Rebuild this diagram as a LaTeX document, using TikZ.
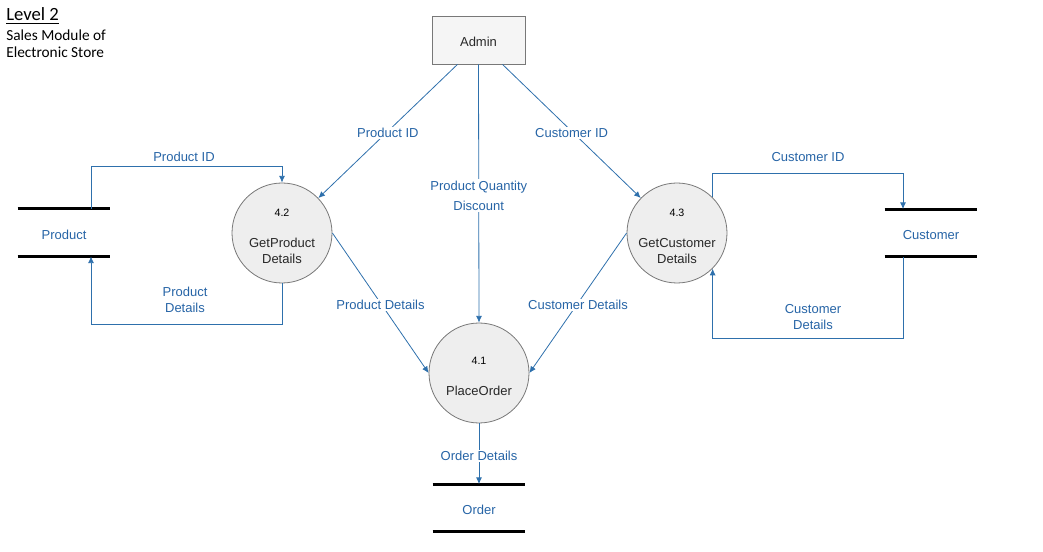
\documentclass[tikz,border=0pt]{standalone}
\usepackage{fontspec}
\setmainfont{Liberation Sans}
\newfontfamily\titlefont{Carlito}
\usetikzlibrary{arrows.meta}
\definecolor{flow}{RGB}{46,112,172}
\definecolor{lbl}{RGB}{38,100,166}
\definecolor{procfill}{RGB}{238,238,238}
\definecolor{procdraw}{RGB}{120,120,120}
\definecolor{txt}{RGB}{40,40,40}
\begin{document}
\begin{tikzpicture}[x=0.75pt,y=-0.75pt,
  proc/.style={circle, draw=procdraw, fill=procfill, minimum size=75pt, inner sep=0pt, line width=0.6pt},
  ent/.style={draw=procdraw, fill=gray!8, minimum width=69.75pt, minimum height=36pt, inner sep=0pt, line width=0.6pt},
  flowline/.style={draw=flow, line width=0.6pt, -{Latex[length=5pt,width=4.5pt]}},
  lab/.style={fill=white, text=lbl, font=\fontsize{9.75}{15}\selectfont, inner sep=1pt, align=center, yshift=-1.5pt},
  plainlab/.style={text=lbl, font=\fontsize{9.75}{12}\selectfont, inner sep=1pt, align=center, yshift=-1.5pt},
  storebox/.style={minimum width=69pt, minimum height=35.5pt, inner sep=0pt},
  storeline/.style={line width=2.25pt, black},
  num/.style={text=black, font=\fontsize{8}{9}\selectfont, inner sep=0pt, yshift=-1pt},
  ptext/.style={text=txt, font=\fontsize{9.75}{12}\selectfont, align=center, inner sep=0pt, yshift=-1.5pt},
  ttl/.style={anchor=base west, inner sep=0pt, text=black}]
\useasboundingbox (0,0) rectangle (1043,552);

% title
\node[ttl, font=\titlefont\fontsize{14}{16}\selectfont] (t1) at (6,21) {\underline{Level 2}};
\node[ttl, font=\titlefont\fontsize{11.5}{13}\selectfont] (t2) at (6,41) {Sales Module of};
\node[ttl, font=\titlefont\fontsize{11.5}{13}\selectfont] (t3) at (6,58) {Electronic Store};

% entity
\node[ent] (admin) at (478.5,40) {};
\node[ptext] (ladmin) at (admin.center) {Admin};

% processes
\node[proc] (p42) at (282,233) {};
\node[num] (n42) at (282,211) {4.2};
\node[ptext] (l42) at (282,249) {GetProduct\\Details};
\node[proc] (p43) at (677,233) {};
\node[num] (n43) at (677,211) {4.3};
\node[ptext] (l43) at (677,249) {GetCustomer\\Details};
\node[proc] (p41) at (479,373) {};
\node[num] (n41) at (479,359) {4.1};
\node[ptext] (l41) at (479,389) {PlaceOrder};

% stores
\node[storebox] (pstore) at (64,232.5) {};
\node[plainlab] (lps) at (pstore.center) {Product};
\draw[storeline] (pstore.north west) -- (pstore.north east);
\draw[storeline] (pstore.south west) -- (pstore.south east);
\node[storebox] (cstore) at (931,233) {};
\node[plainlab] (lcs) at (cstore.center) {Customer};
\draw[storeline] (cstore.north west) -- (cstore.north east);
\draw[storeline] (cstore.south west) -- (cstore.south east);
\node[storebox] (ostore) at (479,508) {};
\node[plainlab] (los) at (ostore.center) {Order};
\draw[storeline] (ostore.north west) -- (ostore.north east);
\draw[storeline] (ostore.south west) -- (ostore.south east);

% flows from Admin
\draw[flowline] ([xshift=-15.75pt]admin.south) -- node[lab, pos=0.5] {Product ID} (p42);
\draw[flowline] ([xshift=18pt]admin.south) -- node[lab, pos=0.5] {Customer ID} (p43);
\draw[flowline] (admin.south) -- node[lab, pos=0.5] {Product Quantity\\Discount} (p41.north);

% into PlaceOrder
\draw[flowline] (p42.east) -- node[lab, pos=0.5] {Product Details} (p41.west);
\draw[flowline] (p43.west) -- node[lab, pos=0.5] {Customer Details} (p41.east);
\draw[flowline] (p41.south) -- node[lab, pos=0.5] {Order Details} (ostore.north);

% Product store loop
\draw[flowline] ([xshift=20.25pt]pstore.north) -- ++(0,-42) -| (p42.north);
\node[plainlab] (lpid) at (184,155) {Product ID};
\draw[flowline] (p42.south) -- ++(0,41) -| ([xshift=20.25pt]pstore.south);
\node[plainlab] (lpdet) at (185,298) {Product\\Details};

% Customer store loop
\draw[flowline] (p43.45) |- ([xshift=-21pt,yshift=27pt]cstore.north) -- ([xshift=-21pt]cstore.north);
\node[plainlab] (lcid) at (808,155) {Customer ID};
\draw[flowline] ([xshift=-21pt]cstore.south) -- ++(0,81) -| (p43.-45);
\node[plainlab] (lcdet) at (813,315) {Customer\\Details};
\end{tikzpicture}
\end{document}
